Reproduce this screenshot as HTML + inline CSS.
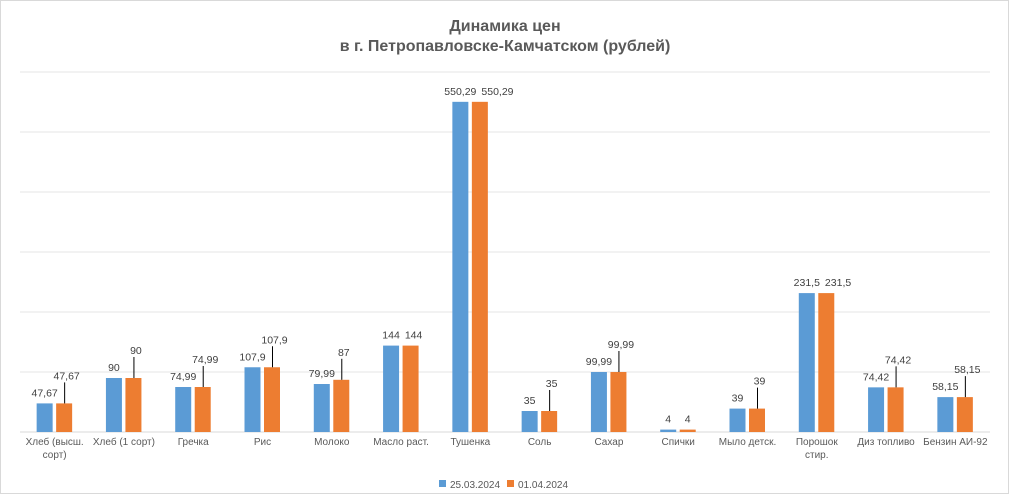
<!DOCTYPE html>
<html><head><meta charset="utf-8"><style>
body{margin:0;background:#fff;}
svg{display:block;font-family:"Liberation Sans","DejaVu Sans",sans-serif;}
</style></head><body>
<svg id="c" width="1010" height="495">
<rect x="0.5" y="0.5" width="1008" height="493" fill="#fff" stroke="#d9d9d9"/>
<text x="505" y="31" text-anchor="middle" font-size="16" font-weight="bold" fill="#595959">Динамика цен</text>
<text x="505" y="51" text-anchor="middle" font-size="16" font-weight="bold" fill="#595959">в г. Петропавловске-Камчатском (рублей)</text>
<g id="grid"></g><g id="bars"></g><g id="labels"></g>
<g>
<rect x="439" y="480" width="7" height="7" fill="#5b9bd5"/>
<text x="450" y="488" font-size="10" fill="#595959">25.03.2024</text>
<rect x="507" y="480" width="7" height="7" fill="#ed7d31"/>
<text x="518" y="488" font-size="10" fill="#595959">01.04.2024</text>
</g>
</svg>
<script>
const categories=[["Хлеб (высш.","сорт)"],["Хлеб (1 сорт)"],["Гречка"],["Рис"],["Молоко"],["Масло раст."],["Тушенка"],["Соль"],["Сахар"],["Спички"],["Мыло детск."],["Порошок","стир."],["Диз топливо"],["Бензин АИ-92"]];
const series1=[47.67,90,74.99,107.9,79.99,144,550.29,35,99.99,4,39,231.5,74.42,58.15];
const series2=[47.67,90,74.99,107.9,87,144,550.29,35,99.99,4,39,231.5,74.42,58.15];
const leader=[1,1,1,1,1,0,0,1,1,0,1,0,1,1];
const ticks=[0,100,200,300,400,500,600];
const NS="http://www.w3.org/2000/svg";
const x0=20,x1=990,y0=432,yTop=72,vmax=600;
const y=v=>y0-(v/vmax)*(y0-yTop);
const bw=(x1-x0)/categories.length;
const cx=i=>x0+bw*(i+0.5);
const fmt=v=>String(v).replace('.',',');
function mk(t,a,p){const e=document.createElementNS(NS,t);for(const k in a)e.setAttribute(k,a[k]);document.getElementById(p).appendChild(e);return e;}
ticks.forEach(t=>{
 const l=mk('line',{x1:x0,x2:x1,y1:y(t),y2:y(t),stroke:t===0?'#d9d9d9':'#e6e6e6','stroke-width':1},'grid');
 
 
});
categories.forEach((c,i)=>{
 const b1=mk('rect',{x:cx(i)-18,y:y(series1[i]),width:16,height:y0-y(series1[i]),fill:'#5b9bd5'},'bars');
 
 
 const b2=mk('rect',{x:cx(i)+1.5,y:y(series2[i]),width:16,height:y0-y(series2[i]),fill:'#ed7d31'},'bars');
 
 
 const t1=mk('text',{x:cx(i)-10,y:y(series1[i])-7,'text-anchor':'middle','font-size':10.5,fill:'#404040'},'labels');
 t1.textContent=fmt(series1[i]);
 
 
 const raise=leader[i]?17:0;
 const ty=y(series2[i])-7-raise;
 if(leader[i]){
  const ln=mk('line',{x1:cx(i)+10,x2:cx(i)+10,y1:y(series2[i]),y2:ty+3,stroke:'#000','stroke-width':1},'labels');
  
  
 }
 const t2=mk('text',{x:cx(i)+12,y:ty,'text-anchor':'middle','font-size':10.5,fill:'#404040'},'labels');
 t2.textContent=fmt(series2[i]);
 
 
 if(!leader[i]){
  const w1=t1.getComputedTextLength(),w2=t2.getComputedTextLength();
  const need=(cx(i)-10)+w1/2+5+w2/2;
  t2.setAttribute('x',Math.max(cx(i)+9.5,need));
 }
 c.forEach((ln,k)=>{
  const ct=mk('text',{x:cx(i),y:445+k*13,'text-anchor':'middle','font-size':10,fill:'#595959'},'labels');
  ct.textContent=ln;
  
  
 });
});
</script>
</body></html>
